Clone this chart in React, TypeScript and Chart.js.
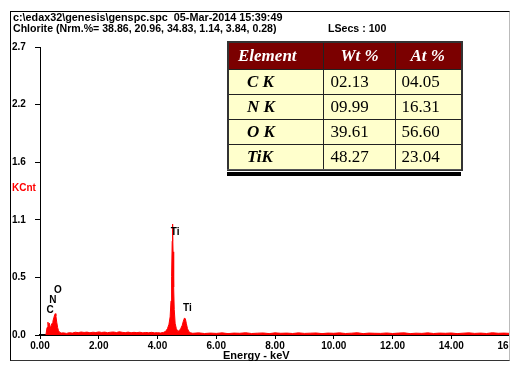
import React, { useEffect, useRef } from "react";
import { Chart, registerables } from "chart.js";

Chart.register(...registerables);

// ---- Data ----
const energies = [
  0.2, 0.24, 0.27, 0.3, 0.32, 0.35, 0.38, 0.41, 0.44, 0.47, 0.5, 0.52, 0.54, 0.57, 0.6, 0.63, 0.67, 0.72,
  0.8, 0.9, 1.0, 1.1, 1.2, 1.3, 1.4, 1.5, 1.6, 1.7, 1.8, 1.9, 2.0, 2.1, 2.2, 2.3, 2.4, 2.5, 2.6, 2.7, 2.8, 2.9,
  3.0, 3.1, 3.2, 3.3, 3.4, 3.5, 3.6, 3.7, 3.8, 3.9, 4.0, 4.1, 4.2, 4.28, 4.34, 4.39, 4.43, 4.46, 4.48, 4.5,
  4.51, 4.52, 4.53, 4.55, 4.57, 4.6, 4.64, 4.69, 4.74, 4.79, 4.84, 4.88, 4.92, 4.95, 4.98, 5.02, 5.07, 5.13,
  5.2, 5.4, 5.6, 5.8, 6.0, 6.2, 6.4, 6.6, 6.8, 7.0, 7.2, 7.4, 7.6, 7.8, 8.0, 8.2, 8.4, 8.6, 8.8, 9.0, 9.2,
  9.4, 9.6, 9.8, 10.0, 10.2, 10.4, 10.6, 10.8, 11.0, 11.2, 11.4, 11.6, 11.8, 12.0, 12.2, 12.4, 12.6, 12.8,
  13.0, 13.2, 13.4, 13.6, 13.8, 14.0, 14.2, 14.4, 14.6, 14.8, 15.0, 15.2, 15.4, 15.6, 15.8, 16.0,
];
const counts = [
  0, 0.07, 0.12, 0.08, 0.11, 0.06, 0.09, 0.11, 0.13, 0.16, 0.19, 0.2, 0.18, 0.12, 0.07, 0.04, 0.025, 0.018,
  0.02, 0.015, 0.022, 0.018, 0.026, 0.022, 0.028, 0.024, 0.027, 0.021, 0.026, 0.023, 0.029, 0.024, 0.027, 0.022, 0.026, 0.028, 0.023, 0.03, 0.025, 0.022,
  0.027, 0.021, 0.025, 0.022, 0.026, 0.02, 0.024, 0.021, 0.025, 0.02, 0.022, 0.019, 0.024, 0.035, 0.06, 0.1, 0.17, 0.32, 0.55, 0.88,
  1.04, 0.96, 0.78, 0.45, 0.24, 0.11, 0.06, 0.035, 0.04, 0.06, 0.09, 0.13, 0.16, 0.15, 0.11, 0.06, 0.03, 0.02,
  0.016, 0.02, 0.014, 0.018, 0.015, 0.02, 0.013, 0.018, 0.016, 0.021, 0.014, 0.017, 0.019, 0.013, 0.02, 0.016, 0.018, 0.014, 0.02, 0.015, 0.017,
  0.019, 0.013, 0.018, 0.016, 0.02, 0.014, 0.017, 0.021, 0.013, 0.018, 0.016, 0.015, 0.019, 0.014, 0.018, 0.02, 0.013, 0.017,
  0.015, 0.02, 0.014, 0.018, 0.016, 0.019, 0.013, 0.017, 0.02, 0.015, 0.018, 0.014, 0.021, 0.016, 0.018, 0.015,
];

const xTickValues = [0, 2, 4, 6, 8, 10, 12, 14, 16];
const xTickLabels = ["0.00", "2.00", "4.00", "6.00", "8.00", "10.00", "12.00", "14.00", "16.00"];
const yTickValues = [0, 0.54, 1.08, 1.62, 2.16, 2.7];
const yTickLabels = ["0.0", "0.5", "1.1", "1.6", "2.2", "2.7"];

const peakLabels = ["C", "N", "O", "Ti", "Ti"];
const peakLabelEnergies = [0.34, 0.44, 0.61, 4.6, 5.02];
const peakLabelHeights = [0.234, 0.33, 0.42, 0.965, 0.25];

const tableElements = ["C K", "N K", "O K", "TiK"];
const tableWt = ["02.13", "09.99", "39.61", "48.27"];
const tableAt = ["04.05", "16.31", "56.60", "23.04"];

const headerLine1 = "c:\\edax32\\genesis\\genspc.spc  05-Mar-2014 15:39:49";
const headerLine2 = "Chlorite (Nrm.%= 38.86, 20.96, 34.83, 1.14, 3.84, 0.28)";
const lsecsText = "LSecs : 100";
const yAxisTitle = "KCnt";
const xAxisTitle = "Energy - keV";

const SANS = "'Liberation Sans', Arial, sans-serif";
const SERIF = "'Liberation Serif', 'Times New Roman', serif";

const peakLabelPlugin = {
  id: "peakLabels",
  afterDatasetsDraw(chart: any) {
    const { ctx, scales } = chart;
    ctx.save();
    ctx.font = `bold 10px ${SANS}`;
    ctx.fillStyle = "#000";
    ctx.textAlign = "center";
    ctx.textBaseline = "middle";
    peakLabels.forEach((lab, i) => {
      ctx.fillText(lab, scales.x.getPixelForValue(peakLabelEnergies[i]), scales.y.getPixelForValue(peakLabelHeights[i]));
    });
    ctx.restore();
  },
};

export default function App() {
  const canvasRef = useRef<HTMLCanvasElement | null>(null);

  useEffect(() => {
    if (!canvasRef.current) return;
    const chart = new Chart(canvasRef.current, {
      type: "line",
      data: {
        datasets: [
          {
            data: energies.map((e, i) => ({ x: e, y: counts[i] })),
            borderColor: "#ff0000",
            backgroundColor: "#ff0000",
            borderWidth: 1,
            pointRadius: 0,
            fill: "origin",
            tension: 0,
          },
        ],
      },
      options: {
        responsive: false,
        animation: false,
        layout: { padding: { left: 12, right: 19, top: 47, bottom: 0 } },
        plugins: { legend: { display: false }, tooltip: { enabled: false } },
        scales: {
          x: {
            type: "linear",
            min: 0,
            max: 16,
            afterBuildTicks: (s: any) => {
              s.ticks = xTickValues.map((v) => ({ value: v }));
            },
            afterFit: (s: any) => {
              s.height = 41;
            },
            ticks: {
              callback: (_v: any, i: number) => xTickLabels[i],
              font: { family: SANS, size: 10, weight: "bold" },
              color: "#000",
              padding: 1,
              maxRotation: 0,
              autoSkip: false,
            },
            grid: { drawOnChartArea: false, drawTicks: true, tickLength: 4, color: "#000" },
            border: { display: true, color: "#000", width: 2 },
          },
          y: {
            type: "linear",
            min: 0,
            max: 2.7,
            afterBuildTicks: (s: any) => {
              s.ticks = yTickValues.map((v) => ({ value: v }));
            },
            afterFit: (s: any) => {
              s.width = 28;
            },
            ticks: {
              callback: (_v: any, i: number) => yTickLabels[i],
              font: { family: SANS, size: 10, weight: "bold" },
              color: "#000",
              crossAlign: "far",
              padding: 3,
              autoSkip: false,
            },
            grid: { drawOnChartArea: false, drawTicks: true, tickLength: 5, color: "#000" },
            border: { display: true, color: "#000", width: 1 },
          },
        },
      },
      plugins: [peakLabelPlugin],
    } as any);
    return () => chart.destroy();
  }, []);

  const txt: React.CSSProperties = {
    position: "absolute",
    fontFamily: SANS,
    fontWeight: "bold",
    fontSize: 10,
    lineHeight: "11px",
    whiteSpace: "pre",
    color: "#000",
  };

  const cellBorder = "1px solid #222";
  const headCell: React.CSSProperties = {
    background: "#7b0000",
    color: "#fff",
    fontFamily: SERIF,
    fontWeight: "bold",
    fontStyle: "italic",
    fontSize: 17,
    height: 26,
    padding: 0,
    border: cellBorder,
    textAlign: "left",
    verticalAlign: "middle",
  };
  const bodyCell: React.CSSProperties = {
    background: "#ffffcc",
    color: "#000",
    fontFamily: SERIF,
    fontSize: 17,
    height: 24,
    padding: 0,
    border: cellBorder,
    textAlign: "left",
    verticalAlign: "middle",
  };

  return (
    <div style={{ position: "absolute", left: 0, top: 0, width: 529, height: 376, background: "#fff", overflow: "hidden" }}>
      <div
        style={{
          position: "absolute",
          left: 10,
          top: 11,
          width: 500,
          height: 350,
          boxSizing: "border-box",
          borderTop: "1px solid #000",
          borderLeft: "1px solid #000",
          borderBottom: "1px solid #333",
          borderRight: "1px solid #bbb",
          overflow: "hidden",
        }}
      >
        <canvas
          ref={canvasRef}
          width={529}
          height={376}
          style={{ position: "absolute", left: -11, top: -12, width: 529, height: 376 }}
        />
      </div>
      <div style={{ ...txt, left: 13, top: 12, fontSize: 10.8 }}>{headerLine1}</div>
      <div style={{ ...txt, left: 13, top: 23, fontSize: 10.6 }}>{headerLine2}</div>
      <div style={{ ...txt, left: 328, top: 23, fontSize: 10.6 }}>{lsecsText}</div>
      <div style={{ ...txt, left: 12, top: 182, color: "#ff0000" }}>{yAxisTitle}</div>
      <div style={{ ...txt, left: 223, top: 350, fontSize: 11 }}>{xAxisTitle}</div>

      <table
        style={{
          position: "absolute",
          left: 227,
          top: 41,
          width: 234,
          borderCollapse: "collapse",
          border: "2px solid #333",
          tableLayout: "fixed",
        }}
      >
        <colgroup>
          <col style={{ width: 95 }} />
          <col style={{ width: 72 }} />
          <col style={{ width: 67 }} />
        </colgroup>
        <tbody>
          <tr>
            <td style={{ ...headCell, paddingLeft: 9 }}>Element</td>
            <td style={{ ...headCell, paddingLeft: 17 }}>Wt %</td>
            <td style={{ ...headCell, paddingLeft: 15 }}>At %</td>
          </tr>
          {tableElements.map((el, i) => (
            <tr key={el}>
              <td style={{ ...bodyCell, paddingLeft: 18, fontWeight: "bold", fontStyle: "italic" }}>{el}</td>
              <td style={{ ...bodyCell, paddingLeft: 7 }}>{tableWt[i]}</td>
              <td style={{ ...bodyCell, paddingLeft: 6 }}>{tableAt[i]}</td>
            </tr>
          ))}
        </tbody>
      </table>
      <div style={{ position: "absolute", left: 227, top: 169, width: 234, height: 1, background: "#555" }} />
      <div style={{ position: "absolute", left: 227, top: 172, width: 234, height: 4, background: "#000" }} />
    </div>
  );
}
